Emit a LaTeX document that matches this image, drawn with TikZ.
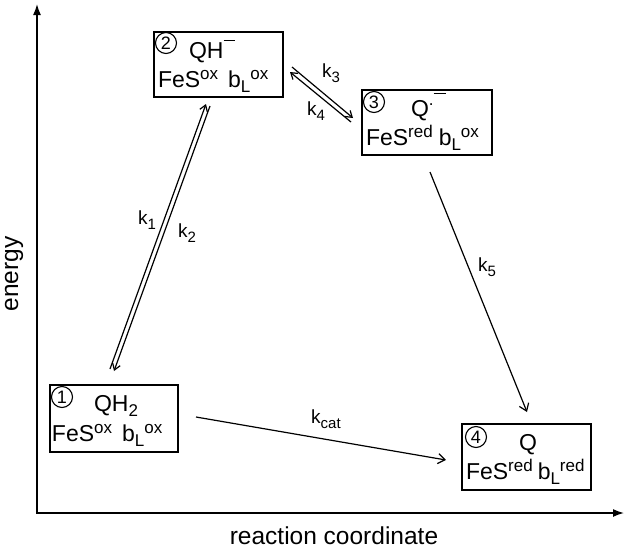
\documentclass[tikz,border=0pt]{standalone}
\usepackage{fontspec}
\setmainfont{Liberation Sans}
\usetikzlibrary{arrows.meta,calc}

% raised / lowered small text for oxidation states and subscripts
\newcommand{\supx}[1]{\raisebox{8pt}{\fontsize{17}{17}\selectfont #1}}
\newcommand{\subx}[1]{\raisebox{-5pt}{\fontsize{17}{17}\selectfont #1}}
\newcommand{\minusbar}{\raisebox{17pt}{\rule{12pt}{1.3pt}}}
\newcommand{\rate}[1]{k\raisebox{-5pt}{\fontsize{15}{15}\selectfont #1}}

\begin{document}
\begin{tikzpicture}[x=1pt,y=-1pt,
  every node/.style={inner sep=0pt, outer sep=0pt},
  state/.style={draw, line width=1.3pt, rectangle, anchor=north west},
  num/.style={draw, circle, line width=1.1pt, minimum size=21pt,
              font=\fontsize{18}{18}\selectfont},
  txt/.style={anchor=base west, font=\fontsize{23}{26}\selectfont},
  klabel/.style={font=\fontsize{19}{22}\selectfont},
  axlabel/.style={font=\fontsize{24.5}{28}\selectfont},
  rx/.style={line width=1.2pt, -{Straight Barb[length=7pt,width=10pt]}},
  rxs/.style={line width=1.2pt, -{Straight Barb[length=6pt,width=8pt]}},
  axis/.style={line width=1.5pt,
               {Latex[length=11pt,width=8pt]}-{Latex[length=11pt,width=8pt]}}
]
\useasboundingbox (0,0) rectangle (625,550);

% axes
\coordinate (ytop) at (37,4);
\coordinate (orig) at (37,513);
\coordinate (xend) at (624,513);
\draw[axis] (ytop) -- (orig) -- (xend);
\node[axlabel, rotate=90] (ylab) at (14,274) {energy};
\node[axlabel] (xlab) at (334,536) {reaction coordinate};

% state 1
\node[state, minimum width=128pt, minimum height=67pt] (s1) at (50,385) {};
\node[num] (n1) at (62,397) {1};
\node[txt] (s1a) at (94,411) {QH\subx{2}};
\node[txt] (s1b) at (52,441) {FeS\supx{ox}\hspace{10pt}b\subx{L}\supx{ox}};

% state 2
\node[state, minimum width=129pt, minimum height=65pt] (s2) at (154,32) {};
\node[num] (n2) at (166,43) {2};
\node[txt] (s2a) at (189,58) {QH\minusbar};
\node[txt] (s2b) at (158,87) {FeS\supx{ox}\hspace{10pt}b\subx{L}\supx{ox}};

% state 3
\node[state, minimum width=130pt, minimum height=65pt] (s3) at (362,90) {};
\node[num] (n3) at (374,102) {3};
\node[txt] (s3a) at (411,116) {Q\raisebox{11pt}{\fontsize{17}{17}\selectfont .}\raisebox{22pt}{\rule{12pt}{1.3pt}}};
\node[txt] (s3b) at (366,145) {FeS\supx{red}\hspace{6pt}b\subx{L}\supx{ox}};

% state 4
\node[state, minimum width=129pt, minimum height=66pt] (s4) at (462,424) {};
\node[num] (n4) at (476,437) {4};
\node[txt] (s4a) at (519,450) {Q};
\node[txt] (s4b) at (466,479) {FeS\supx{red}\hspace{5pt}b\subx{L}\supx{red}};

% reaction arrows
\coordinate (r1a) at (110,369);  \coordinate (r1b) at (206,104);
\coordinate (r2a) at (210,106);  \coordinate (r2b) at (114,371);
\coordinate (r3a) at (292,67);   \coordinate (r3b) at (353,118);
\coordinate (r4a) at (351,122);  \coordinate (r4b) at (290,72);
\coordinate (r5a) at (430,172);  \coordinate (r5b) at (527,412);
\coordinate (rca) at (196,417);  \coordinate (rcb) at (446,460);

\draw[rxs] (r1a) -- (r1b);
\draw[rxs] (r2a) -- (r2b);
\draw[rxs] (r3a) -- (r3b);
\draw[rxs] (r4a) -- (r4b);
\draw[rx] (r5a) -- (r5b);
\draw[rx] (rca) -- (rcb);

\node[klabel] (k1) at (147,220) {\rate{1}};
\node[klabel] (k2) at (187,233) {\rate{2}};
\node[klabel] (k3) at (331,73) {\rate{3}};
\node[klabel] (k4) at (316,111) {\rate{4}};
\node[klabel] (k5) at (487,267) {\rate{5}};
\node[klabel] (kc) at (326,419) {\rate{cat}};
\end{tikzpicture}
\end{document}
